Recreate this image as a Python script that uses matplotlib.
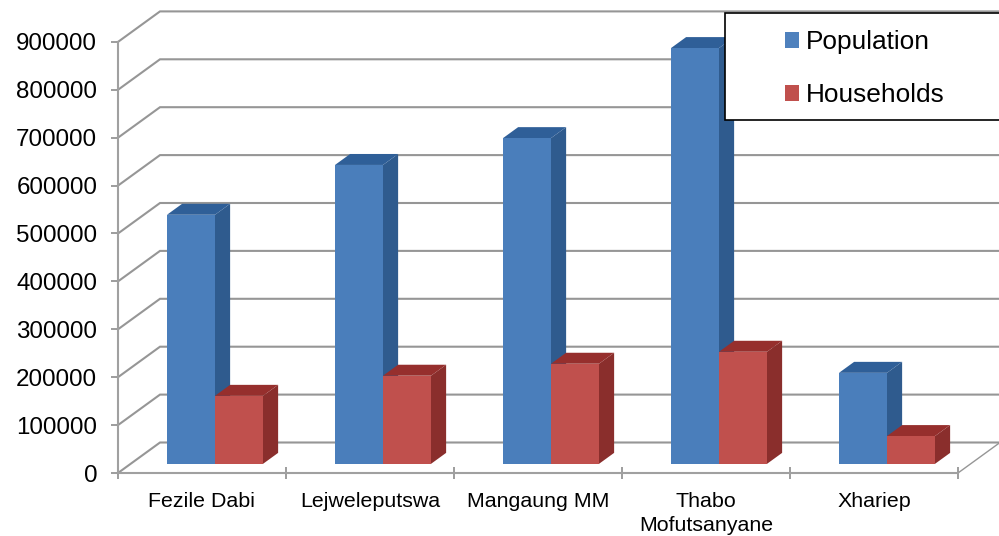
import matplotlib
matplotlib.use("Agg")
import matplotlib.pyplot as plt
from matplotlib.patches import Polygon, Rectangle, Patch

categories = ["Fezile Dabi", "Lejweleputswa", "Mangaung MM", "Thabo\nMofutsanyane", "Xhariep"]
population = [520000, 624000, 680000, 868000, 190000]
households = [142000, 184000, 209000, 234000, 58000]
yticks = [0, 100000, 200000, 300000, 400000, 500000, 600000, 700000, 800000, 900000]

W, H = 999, 536
X0, Y0 = 118, 473
CAT_PX = 168.0
PX_PER_UNIT = 47.9 / 100000
DEPTH_X = 42 / CAT_PX
DEPTH_Y = 30.5 / PX_PER_UNIT
GRID = "#969696"
AXC = "#a0a0a0"


def proj(x, d, v):
    return (x + d * DEPTH_X, v + d * DEPTH_Y)


fig = plt.figure(figsize=(W / 100, H / 100), dpi=100, facecolor="white")
ax = fig.add_axes([0, 0, 1, 1])
ax.set_xlim(-X0 / CAT_PX, (W - X0) / CAT_PX)
ax.set_ylim(-(H - Y0) / PX_PER_UNIT, Y0 / PX_PER_UNIT)
plt.rcParams["font.family"] = ["Liberation Sans", "DejaVu Sans"]

# walls
xmax_back = (W + 2 - X0) / CAT_PX
for v in yticks:
    pts = [proj(0, 0, v), proj(0, 1, v), (xmax_back, proj(0, 1, v)[1])]
    ax.plot(*zip(*pts), color=GRID, lw=1.5, zorder=1, solid_joinstyle="miter")
ax.plot(*zip(proj(5, 0, 0), proj(5, 1, 0)), color=GRID, lw=1.0, zorder=1)


def bar3d(x, w, v, front, side, top, z):
    d0, d1 = 0.30, 0.66
    ax.add_patch(Polygon([proj(x + w, d0, 0), proj(x + w, d1, 0), proj(x + w, d1, v), proj(x + w, d0, v)],
                         closed=True, fc=side, ec="none", zorder=z))
    ax.add_patch(Polygon([proj(x, d0, v), proj(x + w, d0, v), proj(x + w, d1, v), proj(x, d1, v)],
                         closed=True, fc=top, ec="none", zorder=z))
    ax.add_patch(Rectangle(proj(x, d0, 0), w, v, fc=front, ec="none", zorder=z + 0.1))


bw = 48 / CAT_PX
gap = 36.4 / CAT_PX
for i, (p, h) in enumerate(zip(population, households)):
    bar3d(i + gap, bw, p, "#4a7ebb", "#2f5b8e", "#2f5f98", 3 + i)
    bar3d(i + gap + bw, bw, h, "#c0504d", "#8a2e2c", "#962f2d", 3.5 + i)

# axes
for s in ("top", "right"):
    ax.spines[s].set_visible(False)
for s in ("left", "bottom"):
    ax.spines[s].set_color(AXC)
    ax.spines[s].set_linewidth(1.5)
    ax.spines[s].set_zorder(2)
ax.spines["left"].set_position(("data", 0))
ax.spines["bottom"].set_position(("data", 0))
ax.spines["left"].set_bounds(0, 900000)
ax.spines["bottom"].set_bounds(0, 5)
ax.set_yticks(yticks)
ax.set_yticklabels([str(v) for v in yticks], fontsize=17.4, color="black")
ax.tick_params(axis="y", length=5, width=1.2, color="#8c8c8c", direction="out", pad=10)
ax.set_xticks(range(6))
ax.set_xticklabels([""] * 6)
ax.tick_params(axis="x", which="major", length=9, width=1.2, color="#8c8c8c", direction="inout")
ax.set_xticks([i + 0.5 for i in range(5)], minor=True)
ax.set_xticklabels(categories, minor=True, fontsize=15.4, color="black", linespacing=1.3)
ax.tick_params(axis="x", which="minor", length=0, pad=14)

# legend
ax.add_patch(Rectangle((725, H - 120), 300, 107, transform=None, fc="white", ec="black", lw=1.2, zorder=20))
handles = [Patch(fc="#4f81bd", ec="none", label="Population"), Patch(fc="#c0504d", ec="none", label="Households")]
leg = ax.legend(handles=handles, loc="upper left", bbox_to_anchor=(785 / W, 1 - 30 / H),
                bbox_transform=fig.transFigure, frameon=False, fontsize=18.9,
                handlelength=0.54, handleheight=0.54, handletextpad=0.24,
                labelspacing=1.12, borderpad=0, borderaxespad=0)
leg.set_zorder(21)

fig.savefig("out.png", dpi=100)
